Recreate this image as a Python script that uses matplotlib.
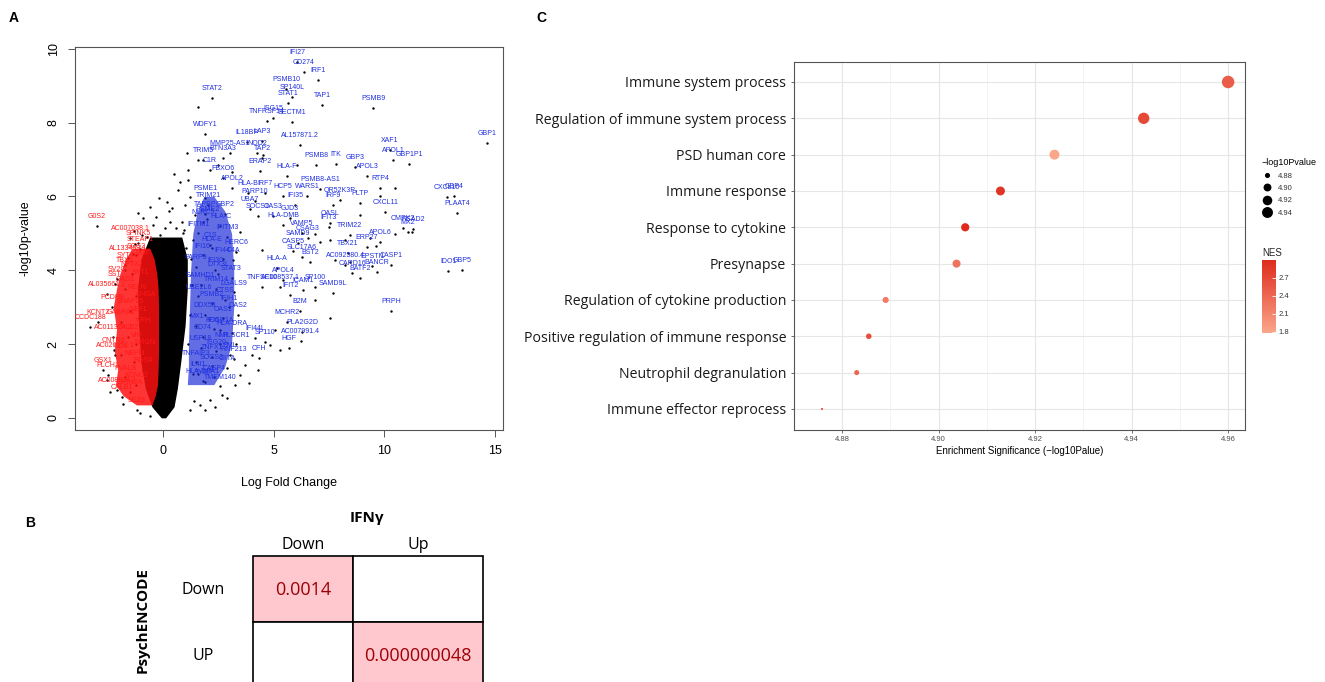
import matplotlib
matplotlib.use("Agg")
import matplotlib.pyplot as plt
import numpy as np
from matplotlib.colors import LinearSegmentedColormap, Normalize
from matplotlib.cm import ScalarMappable
from matplotlib.lines import Line2D
from matplotlib.patches import Rectangle

plt.rcParams['font.family'] = ['Liberation Sans', 'DejaVu Sans']

# ---------------- Panel A: volcano data ----------------
up_genes = ["IFI27", "CD274", "IRF1", "PSMB10", "SP140L", "STAT1", "TAP1", "PSMB9", "STAT2",
            "ISG15", "TNFRSF14", "SECTM1", "WDFY1", "IL18BP", "LAP3", "AL157871.2", "XAF1",
            "APOL1", "GBP1P1", "GBP1", "MMP25-AS1", "NOD2", "TRIM5", "BTN3A3", "TAP2", "PSMB8",
            "ITK", "GBP3", "C1R", "FBXO6", "ERAP2", "HLA-F", "APOL3", "RTP4", "PSMB8-AS1",
            "WARS1", "HCP5", "IFI35", "IRF9", "OR52K3P", "PLTP", "CXCL11", "CXCL10", "GBP4",
            "PLAAT4", "PARP10", "UBA7", "SOCS1", "OAS3", "GJD3", "HLA-DMB", "OASL", "IFIT3",
            "CMPK2", "RSAD2", "MX2", "VAMP5", "CSAG3", "SAMD9", "TRIM22", "APOL6", "ERP27",
            "TBX21", "AC092580.4", "EPSTI1", "CASP1", "CARD16", "BANCR", "BATF2", "IDO1", "GBP5",
            "PRPH", "CASP5", "SLC17A6", "BST2", "HLA-A", "APOL4", "AC008537.1", "ICAM1", "IFIT2",
            "TNFSF10", "SP100", "SAMD9L", "B2M", "MCHR2", "PLA2G2D", "AC007991.4", "HGF", "CFH",
            "IFI44L", "SP110", "C4A", "APOL2", "TAPBP", "NLRC5", "PSME1", "TRIM21", "GBP2",
            "HLA-B", "IRF7", "C1S", "IFI30", "CTSS", "FCGR1A", "TYMP", "PML", "ZNFX1",
            "PSME2", "HLA-C", "IFITM1", "IFITM3", "HLA-E", "IFI16", "IFI44", "HERC6", "PARP9",
            "DTX3L", "STAT3", "SAMHD1", "TRIM14", "LGALS9", "UBE2L6", "PSMB2", "IFIH1", "DDX58",
            "OAS1", "OAS2", "MX1", "IFI6", "HLA-DRA", "CD74", "NMI", "PLSCR1", "USP18", "ISG20",
            "RNF213", "TNFAIP3", "SOCS3", "CIITA", "IL4I1", "CASP4", "HLA-DPA1", "TMEM140"]
up_lfc = [6.06, 6.38, 7.01, 5.57, 5.84, 5.66, 7.19, 9.50, 2.22,
          4.98, 4.71, 5.84, 1.90, 3.80, 4.48, 6.20, 10.27,
          10.41, 11.13, 14.66, 3.03, 4.25, 1.81, 2.71, 4.48, 6.92,
          7.83, 8.69, 2.13, 2.71, 4.39, 5.61, 9.23, 9.82, 7.10,
          6.52, 5.43, 5.97, 7.69, 8.01, 8.91, 10.05, 12.85, 13.17,
          13.30, 4.16, 3.94, 4.30, 4.98, 5.75, 5.43, 7.56, 7.51,
          10.86, 11.31, 11.09, 6.29, 6.56, 6.11, 8.46, 9.82, 9.23,
          8.37, 8.24, 9.46, 10.32, 8.55, 9.68, 8.91, 12.90, 13.53,
          10.32, 5.88, 6.29, 6.65, 5.16, 5.43, 5.29, 6.33, 5.75,
          4.48, 6.88, 7.69, 6.20, 5.61, 6.29, 6.24, 5.70, 4.34,
          4.16, 4.62, 3.17, 3.12, 1.90, 1.81, 1.90, 2.04, 2.81,
          3.85, 4.62, 2.13, 2.35, 2.81, 2.58, 1.90, 3.03, 2.22,
          2.00, 2.60, 1.60, 2.90, 2.20, 1.80, 2.70, 3.30, 1.50,
          2.50, 3.10, 1.70, 2.40, 3.20, 1.60, 2.20, 3.00, 1.90,
          2.70, 3.40, 1.50, 2.30, 3.10, 1.80, 2.60, 3.30, 1.70, 2.40,
          3.20, 1.50, 2.20, 2.90, 1.60, 2.30, 1.80, 2.60]
up_logp = [9.65, 9.38, 9.16, 8.92, 8.70, 8.54, 8.48, 8.40, 8.67,
           8.13, 8.05, 8.02, 7.70, 7.48, 7.51, 7.40, 7.26,
           6.99, 6.88, 7.45, 7.18, 7.18, 6.99, 7.05, 7.05, 6.86,
           6.88, 6.80, 6.72, 6.50, 6.69, 6.56, 6.56, 6.23, 6.21,
           6.02, 6.02, 5.77, 5.77, 5.91, 5.83, 5.58, 5.99, 6.02,
           5.56, 5.88, 5.66, 5.47, 5.47, 5.42, 5.23, 5.28, 5.18,
           5.15, 5.12, 5.04, 5.01, 4.88, 4.74, 4.96, 4.77, 4.63,
           4.47, 4.15, 4.12, 4.15, 3.93, 3.96, 3.79, 3.98, 4.01,
           2.90, 4.53, 4.36, 4.23, 4.07, 3.74, 3.55, 3.47, 3.33,
           3.55, 3.55, 3.39, 2.90, 2.60, 2.33, 2.09, 1.90, 1.63,
           2.17, 2.06, 4.28, 6.23, 5.53, 5.31, 5.96, 5.77, 5.53,
           6.10, 6.10, 4.69, 4.01, 3.20, 2.38, 0.98, 1.71, 1.65,
           5.40, 5.20, 5.00, 4.90, 4.60, 4.40, 4.30, 4.50, 4.10,
           3.90, 3.80, 3.60, 3.50, 3.40, 3.30, 3.10, 3.00, 2.80,
           2.70, 2.80, 2.50, 2.40, 2.30, 2.20, 2.00, 2.00, 1.90, 1.80,
           1.60, 1.50, 1.40, 1.35, 1.20, 1.10, 1.00, 0.85]

down_genes = ["G0S2", "AC007038.1", "SPINK5", "STEAP1", "AL133453.1", "SYT4", "TBX5", "SV2C",
              "SST", "AL035661.1", "PCDH8", "KCNT2", "CCDC188", "AC011374.2", "CNTN6",
              "AC026471.1", "GSX1", "PLCH1", "AC008914.1", "CALB1", "SEZ6",
              "SCG2", "VGF", "NPTX2", "SYT1", "GAD1", "RELN", "CHGA", "SNAP25", "NEFL",
              "GABRA1", "CRH", "CALB2", "VIP", "NRGN", "CCK", "NEFM", "RGS4", "PVALB",
              "KCNC2", "GRIN2A"]
down_lfc = [-2.99, -1.49, -1.13, -1.04, -1.58, -1.72, -1.72, -2.08,
            -2.17, -2.53, -2.31, -2.94, -3.30, -2.26, -2.22,
            -2.17, -2.71, -2.49, -2.08, -1.86, -1.18,
            -1.20, -0.90, -1.40, -1.00, -1.70, -1.20, -0.80, -1.50, -1.10,
            -1.90, -0.90, -1.60, -1.20, -0.80, -1.90, -1.30, -0.90, -1.70,
            -1.20, -1.50]
down_logp = [5.20, 4.88, 4.74, 4.58, 4.34, 4.15, 4.01, 3.77,
             3.63, 3.36, 3.01, 2.60, 2.47, 2.20, 1.84,
             1.71, 1.30, 1.17, 0.76, 0.57, 0.22,
             4.40, 4.20, 3.90, 3.70, 3.50, 3.30, 3.10, 2.90, 2.70,
             2.60, 2.40, 2.20, 2.00, 1.80, 1.70, 1.50, 1.30, 1.10,
             0.90, 0.70]

# non-significant / unlabeled genes (sparse part of the cloud)
bg_lfc = [-0.59, -0.90, -0.45, -0.72, -1.13, 1.22, 0.68, 1.00, 1.45, 0.41, 0.86, 1.13, 0.59,
          1.36, 1.58, 1.09, 1.58, 1.13, 0.09, -0.14, 0.32, 3.71, 4.03, 4.84, 3.26, 2.67,
          2.13, 1.67, 1.22, 3.48, 4.30, 5.07, 5.29, 4.48, 3.48, 7.10, 7.78, 8.46, 6.88,
          7.56, 8.24, 8.91, 9.37, 9.64, 10.50, 11.27, 7.56, 6.88, 6.06, 4.52, 2.49, 3.12,
          9.82, 10.50, -2.53, -2.40, -1.81, -1.04, -0.59, -0.30, 0.25, 0.95, -1.30, 0.75,
          1.40, 2.35, 0.20, -0.20, 0.50, 1.90, 2.90, 3.90, 1.25, 1.30, 1.20, 1.15, 1.35,
          -1.25, -1.35, -0.95, 0.90, 1.05]
bg_logp = [5.72, 5.42, 5.23, 4.91, 5.56, 5.99, 6.18, 5.77, 5.50, 5.69, 5.31, 6.45, 5.15,
           4.82, 6.99, 7.18, 8.43, 6.72, 5.15, 4.96, 5.31, 1.44, 1.71, 1.98, 0.89, 0.62,
           0.49, 0.35, 0.22, 1.17, 1.30, 2.38, 1.84, 4.55, 5.04, 4.77, 4.28, 4.23, 3.20,
           2.71, 4.82, 5.50, 4.88, 4.66, 4.99, 5.04, 4.82, 4.99, 6.86, 7.13, 6.86, 6.67,
           6.02, 6.23, 1.03, 0.70, 0.38, 0.14, 0.05, 5.45, 5.60, 5.10, 5.05, 6.40,
           0.45, 0.30, 5.85, 5.95, 6.60, 0.20, 0.55, 0.95, 4.30, 3.60, 2.80, 2.00, 1.20,
           4.70, 4.45, 4.95, 5.00, 4.60]

# outline of the saturated (solid) part of the point cloud
core_y = [0.0, 0.3, 0.8, 1.5, 2.5, 3.5, 4.3, 4.9]
core_left = [-0.08, -0.5, -0.8, -1.0, -1.1, -1.15, -1.0, -0.6]
core_right = [0.12, 0.5, 0.65, 0.8, 1.0, 1.1, 1.1, 0.85]
red_y = [0.35, 0.6, 0.9, 1.3, 1.8, 2.4, 3.0, 3.5, 3.9, 4.3, 4.6]
red_left = [-1.2, -1.8, -2.15, -2.05, -2.2, -2.1, -2.25, -2.1, -1.95, -1.7, -1.4]
red_right = [-0.5, -0.35, -0.25, -0.22, -0.2, -0.2, -0.2, -0.22, -0.28, -0.4, -0.6]
blue_y = [0.9, 1.4, 2.0, 3.0, 4.0, 5.0, 5.6, 6.0]
blue_left = [1.1, 1.15, 1.15, 1.2, 1.25, 1.35, 1.55, 1.85]
blue_right = [2.3, 2.8, 3.1, 3.2, 3.2, 3.1, 2.8, 2.3]

x_ticks_A = [0, 5, 10, 15]
y_ticks_A = [0, 2, 4, 6, 8, 10]

# ---------------- Panel B: overlap table ----------------
col_header = "IFNγ"
row_header = "PsychENCODE"
col_labels = ["Down", "Up"]
row_labels = ["Down", "UP"]
cell_values = [["0.0014", ""], ["", "0.000000048"]]
cell_signif = [[True, False], [False, True]]

# ---------------- Panel C: enrichment dot plot ----------------
terms = ["Immune system process", "Regulation of immune system process", "PSD human core",
         "Immune response", "Response to cytokine", "Presynapse",
         "Regulation of cytokine production", "Positive regulation of immune response",
         "Neutrophil degranulation", "Immune effector reprocess"]
enrich = [4.9600, 4.9425, 4.9240, 4.9128, 4.9055, 4.9037, 4.8890, 4.8855, 4.8830, 4.8758]
nes = [2.50, 2.70, 1.78, 2.90, 3.00, 2.28, 2.20, 2.65, 2.42, 2.85]
size_breaks = [4.88, 4.90, 4.92, 4.94]
nes_ticks = [1.8, 2.1, 2.4, 2.7]
x_ticks_C = [4.88, 4.90, 4.92, 4.94, 4.96]

W, H = 1325, 682
fig = plt.figure(figsize=(W / 100, H / 100), dpi=100)

# ================= Panel A =================
axA = fig.add_axes([75 / W, 1 - 430 / H, 428 / W, 383 / H])
axA.fill_betweenx(core_y, core_left, core_right, color='black', lw=0, zorder=1)
axA.scatter(bg_lfc, bg_logp, s=3, color='black', lw=0, zorder=2)
axA.scatter(up_lfc, up_logp, s=3, color='black', lw=0, zorder=2)
axA.scatter(down_lfc, down_logp, s=3, color='black', lw=0, zorder=2)
axA.fill_betweenx(red_y, red_left, red_right, color='#ff1010', lw=0, alpha=0.85, zorder=3)
axA.fill_betweenx(blue_y, blue_left, blue_right, color='#1a2ad8', lw=0, alpha=0.68, zorder=3)
for g, x, y in zip(up_genes, up_lfc, up_logp):
    axA.annotate(g, (x, y), xytext=(0, 6.5), textcoords='offset points', ha='center',
                 va='center', fontsize=5, color='#1f2fe0', zorder=4)
for g, x, y in zip(down_genes, down_lfc, down_logp):
    axA.annotate(g, (x, y), xytext=(0, 6.5), textcoords='offset points', ha='center',
                 va='center', fontsize=5, color='#ff1a1a', zorder=4)
axA.set_xlim(-3.98, 15.38)
axA.set_ylim(-0.33, 10.05)
axA.set_xticks(x_ticks_A)
axA.set_yticks(y_ticks_A)
for sp in axA.spines.values():
    sp.set_color('#555555')
    sp.set_linewidth(0.8)
axA.tick_params(axis='both', direction='out', length=5, width=0.7, color='#555555',
                labelsize=9, pad=6)
axA.tick_params(axis='y', labelrotation=90)
for lab in axA.get_yticklabels():
    lab.set_va('center')
axA.set_xlabel("Log Fold Change", fontsize=9, labelpad=14)
axA.set_ylabel("-log10p-value", fontsize=9, labelpad=12)

# ================= Panel C =================
axC = fig.add_axes([794 / W, 1 - 430 / H, 451 / W, 368 / H])
ypos = np.arange(len(terms))
cmap = LinearSegmentedColormap.from_list("nes", ["#fba68a", "#de2b1d"])
norm = Normalize(vmin=min(nes), vmax=max(nes))
emin, emax = min(enrich), max(enrich)
dmin, dmax = 2.0, 12.5


def diam_px(v):
    t = np.clip((np.asarray(v) - emin) / (emax - emin), 0, 1)
    return dmin + (dmax - dmin) * np.sqrt(t)


sizes = (diam_px(enrich) * 0.72) ** 2
axC.scatter(enrich, ypos, s=sizes, c=nes, cmap=cmap, norm=norm, lw=0, zorder=3)
axC.set_xlim(4.8712, 4.9635)
axC.set_ylim(len(terms) - 1 + 0.58, -0.55)
axC.set_xticks(x_ticks_C)
axC.set_xticklabels([f"{v:.2f}" for v in x_ticks_C])
axC.set_xticks(np.arange(4.87, 4.9651, 0.01), minor=True)
axC.set_yticks(ypos)
axC.set_yticklabels(terms, fontsize=10.2, color='#1a1a1a', family=['Open Sans', 'DejaVu Sans'])
axC.grid(True, which='major', color='#e6e6e6', lw=0.8, zorder=0)
axC.grid(True, which='minor', axis='x', color='#f0f0f0', lw=0.5, zorder=0)
axC.set_axisbelow(True)
for sp in axC.spines.values():
    sp.set_color('#555555')
    sp.set_linewidth(0.8)
axC.tick_params(axis='x', which='major', length=2.5, width=0.6, color='#555555',
                labelsize=5.5, labelcolor='#4d4d4d', pad=2)
axC.tick_params(axis='x', which='minor', length=0)
axC.tick_params(axis='y', length=2.5, width=0.6, color='#555555', pad=3)
axC.set_xlabel("Enrichment Significance (\u2212log10Palue)", fontsize=7, labelpad=2)

# size legend
handles = [Line2D([], [], ls='', marker='o', color='black',
                  markersize=float(diam_px(b)) * 0.72 * 0.85) for b in size_breaks]
fig.legend(handles, [f"{b:.2f}" for b in size_breaks], loc='upper left',
           bbox_to_anchor=(1256 / W, 1 - 153 / H), frameon=False,
           title="\u2212log10Pvalue", title_fontsize=6.5, fontsize=5.5,
           labelspacing=0.65, handletextpad=0.8, handlelength=1.4, borderpad=0.2,
           labelcolor='#333333', alignment='left')

# colour bar
cax = fig.add_axes([1262 / W, 1 - 333 / H, 14 / W, 73 / H])
cb = fig.colorbar(ScalarMappable(norm=norm, cmap=cmap), cax=cax, ticks=nes_ticks)
cb.outline.set_visible(False)
cax.tick_params(axis='y', direction='in', color='white', length=3, width=0.6,
                labelsize=5.5, labelcolor='#333333', pad=2)
cax.set_yticklabels([f"{t:.1f}" for t in nes_ticks])
fig.text(1262 / W, 1 - 253 / H, "NES", fontsize=7, ha='left', va='center', color='#222222')

# ================= Panel B =================
axB = fig.add_axes([0, 0, 1, 1], zorder=-5)
axB.set_xlim(0, W)
axB.set_ylim(H, 0)
axB.axis('off')
tx0, ty0 = 253, 556
col_w = [100, 130]
row_h = 66
bfont = ['Open Sans', 'DejaVu Sans']
col_edges = np.concatenate([[tx0], tx0 + np.cumsum(col_w)])
for i in range(len(row_labels)):
    for j in range(len(col_labels)):
        x0 = col_edges[j]
        y0 = ty0 + i * row_h
        axB.add_patch(Rectangle((x0, y0), col_w[j], row_h,
                                facecolor='#ffc7ce' if cell_signif[i][j] else 'white',
                                edgecolor='black', lw=1.2))
        if cell_values[i][j]:
            axB.text(x0 + col_w[j] / 2, y0 + row_h / 2 + 1, cell_values[i][j], ha='center',
                     va='center', fontsize=13, color='#9c0006', family=bfont)
for j, lab in enumerate(col_labels):
    axB.text(col_edges[j] + col_w[j] / 2, ty0 - 11, lab, ha='center', va='center',
             fontsize=11.5, family=bfont)
for i, lab in enumerate(row_labels):
    axB.text(203, ty0 + i * row_h + row_h / 2 + 1, lab, ha='center', va='center',
             fontsize=11.5, family=bfont)
axB.text(367, 518, col_header, ha='center', va='center', fontsize=11, fontweight='bold',
         family=bfont)
axB.text(143, 620, row_header, ha='center', va='center', rotation=90, fontsize=11,
         fontweight='bold', family=bfont)

# panel letters
fig.text(14 / W, 1 - 18 / H, "A", fontsize=10, fontweight='bold', ha='center', va='center')
fig.text(30 / W, 1 - 523 / H, "B", fontsize=10, fontweight='bold', ha='center', va='center')
fig.text(541 / W, 1 - 18 / H, "C", fontsize=10, fontweight='bold', ha='center', va='center')

fig.savefig("out.png", dpi=100)
